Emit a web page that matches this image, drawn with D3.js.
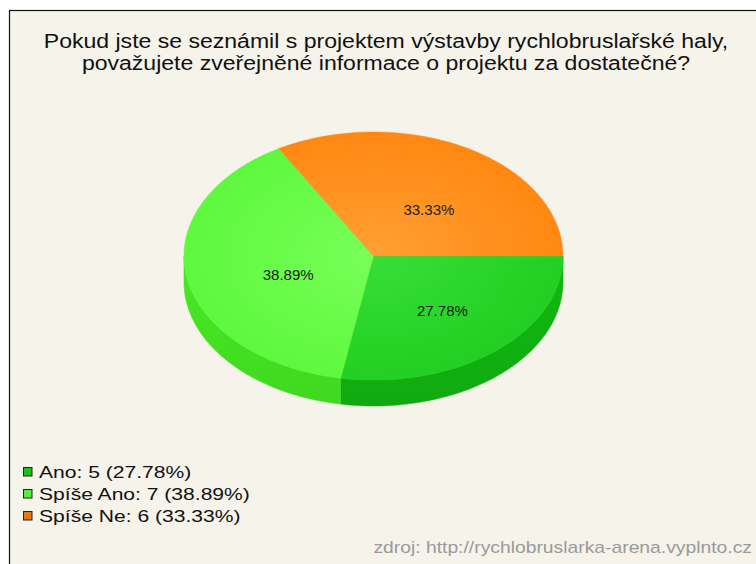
<!DOCTYPE html>
<html><head><meta charset="utf-8">
<script src="https://cdn.jsdelivr.net/npm/d3@7"></script>
<style>html,body{margin:0;padding:0;background:#fff;}svg{display:block;font-family:"Liberation Sans",Arial,sans-serif;}</style>
</head><body>
<svg id="c" width="756" height="564"></svg>
<script>
const titleLines = ["Pokud jste se seznámil s projektem výstavby rychlobruslařské haly,", "považujete zveřejněné informace o projektu za dostatečné?"];
const categories = ["Ano", "Spíše Ano", "Spíše Ne"];
const counts = [5, 7, 6];
const percents = ["27.78%", "38.89%", "33.33%"];
const topColors = ["#22cf22", "#5ef83e", "#ff8812"];
const topLight = ["#38de38", "#78ff58", "#ffa034"];
const sideColors = ["#10aa10", "#40d820", "#d86c08"];
const legendColors = ["#1fbf1f", "#55ee44", "#e07a18"];
const source = "zdroj: http://rychlobruslarka-arena.vyplnto.cz";

const svg = d3.select("#c");
const W = 756, H = 564;
svg.append("rect").attr("width", W).attr("height", H).attr("fill", "#ffffff");
svg.append("rect").attr("x", 9.5).attr("y", 10.5).attr("width", W + 20).attr("height", H + 20)
  .attr("fill", "#f5f3ea").attr("stroke", "#111").attr("stroke-width", 1.2);

// title (stretched horizontally to reference width)
const tg = svg.append("g");
const tTexts = tg.selectAll("text").data(titleLines).join("text")
  .attr("x", 0).attr("y", (d, i) => 48 + i * 22)
  .attr("text-anchor", "middle").attr("font-size", 21).attr("fill", "#111")
  .text(d => d);
const tw = tTexts.nodes()[0].getComputedTextLength();
const ts = 685 / tw;
tTexts.attr("transform", `translate(386,0) scale(${ts},1)`);

// pie geometry
const cx = 373.5, cy = 256, rx = 189.5, ry = 124, depth = 26;
const pie = d3.pie().sort(null).startAngle(Math.PI / 2).endAngle(Math.PI / 2 + 2 * Math.PI);
const arcs = pie(counts);
const ex = a => cx + rx * Math.sin(a);
const ey = a => cy - ry * Math.cos(a);
const line = d3.line();

const defs = svg.append("defs");
arcs.forEach((d, i) => {
  const g = defs.append("radialGradient").attr("id", "tg" + i)
    .attr("gradientUnits", "userSpaceOnUse").attr("cx", cx).attr("cy", cy).attr("r", rx)
    .attr("gradientTransform", `translate(${cx},${cy}) scale(1,${ry / rx}) translate(${-cx},${-cy})`);
  g.append("stop").attr("offset", "0%").attr("stop-color", topLight[i]);
  g.append("stop").attr("offset", "100%").attr("stop-color", topColors[i]);
  const s = defs.append("linearGradient").attr("id", "sg" + i).attr("x1", 0).attr("y1", 0).attr("x2", 0).attr("y2", 1);
  s.append("stop").attr("offset", "0%").attr("stop-color", d3.color(sideColors[i]).brighter(0.25));
  s.append("stop").attr("offset", "100%").attr("stop-color", sideColors[i]);
});

// sides (front half)
const sides = svg.append("g");
arcs.forEach((d, i) => {
  const lo = Math.max(d.startAngle, Math.PI / 2);
  const hi = Math.min(d.endAngle, 3 * Math.PI / 2);
  if (hi <= lo) return;
  const n = 80;
  const top = d3.range(n + 1).map(k => lo + (hi - lo) * k / n);
  const pts = top.map(a => [ex(a), ey(a)]).concat(top.slice().reverse().map(a => [ex(a), ey(a) + depth]));
  sides.append("path").attr("d", line(pts) + "Z").attr("fill", `url(#sg${i})`)
    .attr("stroke", sideColors[i]).attr("stroke-width", 0.5);
});

// tops
const tops = svg.append("g");
arcs.forEach((d, i) => {
  const n = 120;
  const pts = [[cx, cy]].concat(d3.range(n + 1).map(k => {
    const a = d.startAngle + (d.endAngle - d.startAngle) * k / n;
    return [ex(a), ey(a)];
  }));
  tops.append("path").attr("d", line(pts) + "Z").attr("fill", `url(#tg${i})`)
    .attr("stroke", topColors[i]).attr("stroke-width", 0.5);
});

// slice labels
svg.append("g").selectAll("text").data(arcs).join("text")
  .attr("x", d => { const a = (d.startAngle + d.endAngle) / 2; return cx + 8 + 0.5 * rx * Math.sin(a); })
  .attr("y", d => { const a = (d.startAngle + d.endAngle) / 2; return cy + 13 - 0.5 * ry * Math.cos(a); })
  .attr("text-anchor", "middle").attr("font-size", 15).attr("fill", "#222")
  .attr("textLength", 51).attr("lengthAdjust", "spacingAndGlyphs")
  .text((d, i) => percents[i]);

// legend
const lg = svg.append("g");
const lTexts = [];
categories.forEach((c, i) => {
  const y = 478 + i * 22;
  lg.append("rect").attr("x", 23.5).attr("y", y - 10.5).attr("width", 8.5).attr("height", 8.5)
    .attr("fill", legendColors[i]).attr("stroke", "#222").attr("stroke-width", 1);
  lTexts.push(lg.append("text").attr("x", 0).attr("y", y).attr("font-size", 16).attr("fill", "#111")
    .text(`${c}: ${counts[i]} (${percents[i]})`));
});
const ls = 211 / lTexts[1].node().getComputedTextLength();
lTexts.forEach(t => t.attr("transform", `translate(39,0) scale(${ls},1)`));

// source
const src = svg.append("text").attr("x", 0).attr("y", 553).attr("text-anchor", "end")
  .attr("font-size", 16).attr("fill", "#9a9a9a").text(source);
const ss = 379 / src.node().getComputedTextLength();
src.attr("transform", `translate(752,0) scale(${ss},1)`);
</script>
</body></html>
